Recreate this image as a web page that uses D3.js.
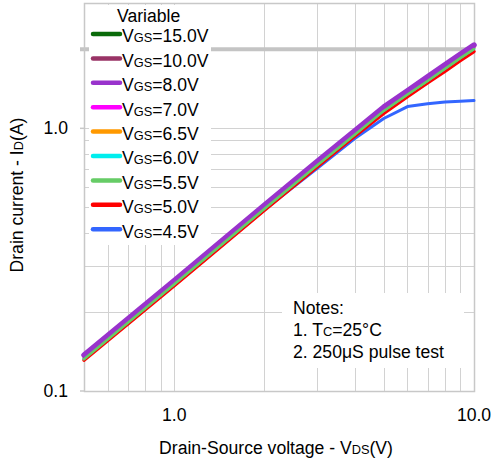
<!DOCTYPE html>
<html>
<head>
<meta charset="utf-8">
<script src="https://cdn.jsdelivr.net/npm/d3@7"></script>
<style>
  html, body { margin: 0; padding: 0; background: #fff; }
  svg { display: block; font-family: 'Liberation Sans', Arial, sans-serif; }
</style>
</head>
<body>
<div id="chart"></div>
<script>
const vds = [0.5, 1, 2, 3, 4, 5, 6, 7, 8, 9, 10];
const labels = ['15.0V', '10.0V', '8.0V', '7.0V', '6.5V', '6.0V', '5.5V', '5.0V', '4.5V'];
const colors = ['#0a6b0a', '#993366', '#9933cc', '#ff00ff', '#ff9900', '#00eeee', '#66cc66', '#ff0000', '#3366ff'];
const id15 = [0.136, 0.262, 0.508, 0.745, 0.975, 1.2, 1.385, 1.565, 1.74, 1.91, 2.07];
const id10 = [0.136, 0.262, 0.508, 0.745, 0.975, 1.2, 1.385, 1.565, 1.74, 1.91, 2.07];
const id8 = [0.137, 0.263, 0.51, 0.748, 0.978, 1.205, 1.39, 1.57, 1.745, 1.915, 2.075];
const id7 = [0.135, 0.26, 0.503, 0.737, 0.962, 1.185, 1.37, 1.545, 1.715, 1.88, 2.04];
const id65 = [0.134, 0.258, 0.5, 0.733, 0.958, 1.18, 1.362, 1.535, 1.705, 1.87, 2.03];
const id6 = [0.133, 0.256, 0.496, 0.727, 0.95, 1.17, 1.35, 1.52, 1.69, 1.855, 2.01];
const id55 = [0.132, 0.255, 0.494, 0.724, 0.945, 1.165, 1.345, 1.515, 1.685, 1.85, 2.005];
const id5 = [0.131, 0.252, 0.488, 0.715, 0.933, 1.14, 1.32, 1.49, 1.65, 1.81, 1.96];
const id45 = [0.133, 0.256, 0.49, 0.705, 0.915, 1.09, 1.21, 1.24, 1.26, 1.267, 1.275];
const series = [id15, id10, id8, id7, id65, id6, id55, id5, id45];
const widths = [3, 3, 5.5, 3, 3, 3, 2.5, 3.5, 3];
const drawOrder = [8, 7, 5, 4, 3, 0, 1, 2, 6];
const xMinor = [0.6, 0.7, 0.8, 0.9, 1, 2, 3, 4, 5, 6, 7, 8, 9];
const yMinor = [0.2, 0.3, 0.4, 0.5, 0.6, 0.7, 0.8, 0.9, 1];
const xTicks = [1, 10];
const yTicks = [0.1, 1];
const notes = ['Notes:', '1. T|C|=25°C', '2. 250μS pulse test'];

const width = 494;
const height = 463;
const plotL = 84, plotR = 474, plotT = 3, plotB = 391;
const fs = 17.6, fsSub = 12.8;

const svg = d3.select('#chart')
  .append('svg')
  .attr('width', width)
  .attr('height', height);

const x = d3.scaleLog().domain([0.5, 10]).range([plotL, plotR]);
const y = d3.scaleLog().domain([0.1, 3]).range([plotB, plotT]);

const grid = svg.append('g').attr('stroke', '#d2d2d2').attr('stroke-width', 1);
grid.selectAll('.vx')
  .data(xMinor)
  .enter()
  .append('line')
  .attr('x1', d => Math.round(x(d)) + 0.5)
  .attr('x2', d => Math.round(x(d)) + 0.5)
  .attr('y1', plotT)
  .attr('y2', plotB);
grid.selectAll('.hy')
  .data(yMinor)
  .enter()
  .append('line')
  .attr('x1', plotL)
  .attr('x2', plotR)
  .attr('y1', d => Math.round(y(d)) + 0.5)
  .attr('y2', d => Math.round(y(d)) + 0.5);

// the thick line at 2.0
svg.append('line')
  .attr('x1', plotL - 4)
  .attr('x2', plotR)
  .attr('y1', y(2))
  .attr('y2', y(2))
  .attr('stroke', '#c4c4c4')
  .attr('stroke-width', 4);

// frame
svg.append('rect')
  .attr('x', plotL + 0.5)
  .attr('y', plotT + 0.5)
  .attr('width', plotR - plotL)
  .attr('height', plotB - plotT)
  .attr('fill', 'none')
  .attr('stroke', '#c8c8c8')
  .attr('stroke-width', 1.5);

// y ticks
svg.selectAll('.ytick')
  .data(yTicks)
  .enter()
  .append('line')
  .attr('x1', plotL - 4)
  .attr('x2', plotL)
  .attr('y1', d => y(d))
  .attr('y2', d => y(d))
  .attr('stroke', '#c8c8c8')
  .attr('stroke-width', 1.5);

const line = d3.line()
  .x(d => x(d[0]))
  .y(d => y(d[1]));

svg.append('g')
  .selectAll('path')
  .data(drawOrder)
  .enter()
  .append('path')
  .attr('d', i => line(vds.map((v, k) => [v, series[i][k]])))
  .attr('fill', 'none')
  .attr('stroke', i => colors[i])
  .attr('stroke-width', i => widths[i])
  .attr('stroke-linecap', 'round')
  .attr('stroke-linejoin', 'round');

// legend
const legend = svg.append('g');
legend.append('rect')
  .attr('x', 89)
  .attr('y', 5)
  .attr('width', 122)
  .attr('height', 240)
  .attr('fill', '#fff');
legend.append('text')
  .attr('x', 117)
  .attr('y', 22)
  .attr('font-size', fs)
  .text('Variable');
const rows = legend.selectAll('.row')
  .data(labels)
  .enter()
  .append('g')
  .attr('transform', (d, i) => `translate(0,${36 + i * 24.4})`);
rows.append('line')
  .attr('x1', 93)
  .attr('x2', 120)
  .attr('y1', -2)
  .attr('y2', -2)
  .attr('stroke', (d, i) => colors[i])
  .attr('stroke-width', 4.5)
  .attr('stroke-linecap', 'round');
const lt = rows.append('text')
  .attr('x', 122)
  .attr('y', 6.3)
  .attr('font-size', fs);
lt.append('tspan').text('V');
lt.append('tspan').attr('font-size', fsSub).text('GS');
lt.append('tspan').text(d => '=' + d);

// notes
svg.append('rect')
  .attr('x', 282)
  .attr('y', 293)
  .attr('width', 182)
  .attr('height', 75)
  .attr('fill', '#fff');
const nt = svg.selectAll('.note')
  .data(notes)
  .enter()
  .append('text')
  .attr('x', 293)
  .attr('y', (d, i) => 314 + i * 22)
  .attr('font-size', fs);
nt.each(function(d) {
  const parts = d.split('|');
  const t = d3.select(this);
  parts.forEach((p, i) => {
    t.append('tspan').attr('font-size', i % 2 ? fsSub : null).text(p);
  });
});

// tick labels
svg.selectAll('.xl')
  .data(xTicks)
  .enter()
  .append('text')
  .attr('x', d => x(d))
  .attr('y', 421)
  .attr('text-anchor', 'middle')
  .attr('font-size', fs)
  .text(d => d.toFixed(1));
svg.selectAll('.yl')
  .data(yTicks)
  .enter()
  .append('text')
  .attr('x', 68)
  .attr('y', d => y(d) + 6)
  .attr('text-anchor', 'end')
  .attr('font-size', fs)
  .text(d => d.toFixed(1));

// axis titles
const xt = svg.append('text')
  .attr('x', 276)
  .attr('y', 454)
  .attr('text-anchor', 'middle')
  .attr('font-size', fs);
xt.append('tspan').text('Drain-Source voltage - V');
xt.append('tspan').attr('font-size', fsSub).text('DS');
xt.append('tspan').text('(V)');

const yt = svg.append('text')
  .attr('transform', 'translate(23,195) rotate(-90)')
  .attr('text-anchor', 'middle')
  .attr('font-size', fs);
yt.append('tspan').text('Drain current - I');
yt.append('tspan').attr('font-size', fsSub).text('D');
yt.append('tspan').text('(A)');
</script>
</body>
</html>
